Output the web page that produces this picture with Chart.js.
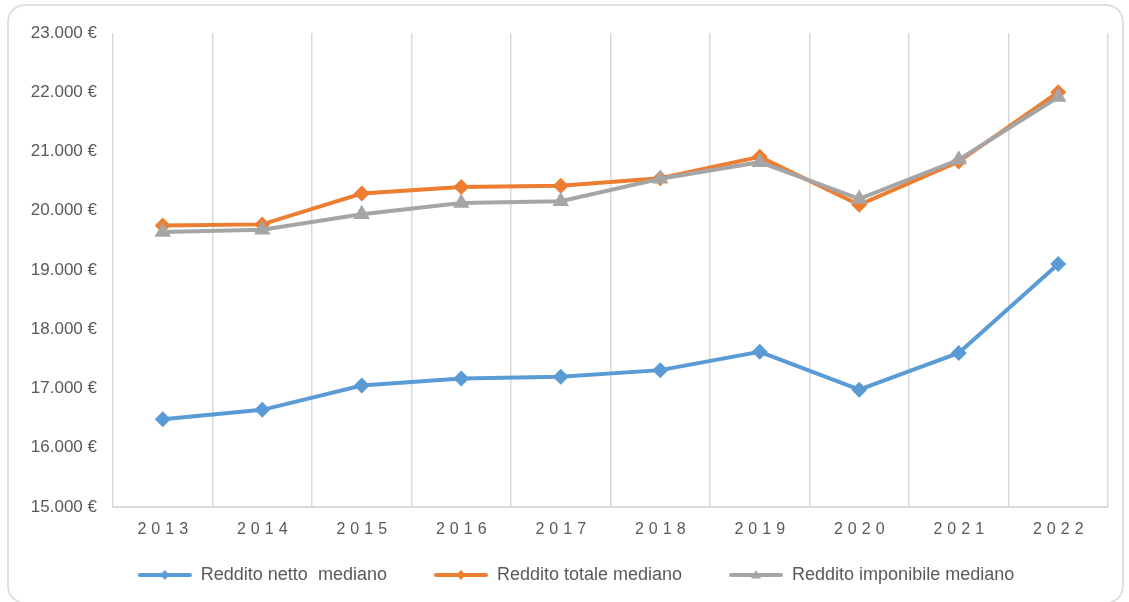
<!DOCTYPE html>
<html>
<head>
<meta charset="utf-8">
<script src="https://cdn.jsdelivr.net/npm/chart.js@4.4.1/dist/chart.umd.min.js"></script>
<style>
  html, body { margin: 0; padding: 0; background: #ffffff; }
  #wrap { position: relative; width: 1129px; height: 602px; overflow: hidden; }
  #frame { position: absolute; left: 7px; top: 4px; width: 1117px; height: 600px;
           border: 2px solid #e0e0e0; border-radius: 18px; box-sizing: border-box; }
  canvas { position: absolute; left: 0; top: 0; }
</style>
</head>
<body>
<div id="wrap">
  <div id="frame"></div>
  <canvas id="c" width="1129" height="602"></canvas>
</div>
<script>
const years = ['2013','2014','2015','2016','2017','2018','2019','2020','2021','2022'];
const redditoNetto = [16480, 16640, 17050, 17170, 17200, 17310, 17620, 16980, 17600, 19100];
const redditoTotale = [19750, 19770, 20290, 20400, 20420, 20550, 20910, 20100, 20830, 22000];
const redditoImponibile = [19640, 19680, 19940, 20130, 20160, 20540, 20820, 20200, 20860, 21920];
const seriesNames = ['Reddito netto  mediano', 'Reddito totale mediano', 'Reddito imponibile mediano'];
const yMin = 15000, yMax = 23000, yStep = 1000;

const BLUE = '#5B9BD5', ORANGE = '#ED7D31', GRAY = '#A5A5A5';
const TEXT = '#595959', GRID = '#d9d9d9';

function legendIcon(color, shape) {
  const c = document.createElement('canvas');
  c.width = 91; c.height = 20;
  const g = c.getContext('2d');
  g.strokeStyle = color; g.lineWidth = 4; g.lineCap = 'round';
  g.beginPath(); g.moveTo(39, 10); g.lineTo(89, 10); g.stroke();
  g.fillStyle = color;
  const cx = 64, cy = 10;
  g.beginPath();
  if (shape === 'diamond') {
    g.moveTo(cx, cy - 5); g.lineTo(cx + 4.5, cy); g.lineTo(cx, cy + 5); g.lineTo(cx - 4.5, cy);
  } else {
    g.moveTo(cx, cy - 5); g.lineTo(cx + 5, cy + 3.5); g.lineTo(cx - 5, cy + 3.5);
  }
  g.closePath(); g.fill();
  return c;
}
const icons = [legendIcon(BLUE, 'diamond'), legendIcon(ORANGE, 'diamond'), legendIcon(GRAY, 'triangle')];

function fmt(v) {
  return String(v).replace(/\B(?=(\d{3})+(?!\d))/g, '.') + ' €';
}

const xSpacing = {
  id: 'xSpacing',
  beforeDraw(chart) {
    const s = chart.scales.x;
    if (s && !s.__wrapped) {
      const orig = s.drawLabels;
      s.drawLabels = function (area) {
        const ctx = this.ctx;
        ctx.save();
        ctx.letterSpacing = '5px';
        ctx.translate(2.5, 0);
        orig.call(this, area);
        ctx.restore();
      };
      s.__wrapped = true;
    }
  }
};

new Chart(document.getElementById('c'), {
  type: 'line',
  data: {
    labels: years,
    datasets: [
      { label: seriesNames[0], data: redditoNetto, borderColor: BLUE, backgroundColor: BLUE,
        borderWidth: 4, pointStyle: 'rectRot', pointRadius: 8, pointBorderWidth: 0, order: 2 },
      { label: seriesNames[1], data: redditoTotale, borderColor: ORANGE, backgroundColor: ORANGE,
        borderWidth: 4, pointStyle: 'rectRot', pointRadius: 8, pointBorderWidth: 0, order: 1 },
      { label: seriesNames[2], data: redditoImponibile, borderColor: GRAY, backgroundColor: GRAY,
        borderWidth: 4, pointStyle: 'triangle', pointRadius: 9.5, pointBorderWidth: 0, order: 0 }
    ]
  },
  options: {
    responsive: false,
    animation: false,
    devicePixelRatio: 1,
    layout: { padding: { left: 7, right: 21, top: 33, bottom: 8 } },
    elements: { line: { tension: 0 } },
    scales: {
      x: {
        offset: true,
        grid: { offset: true, color: GRID, lineWidth: 1.5, drawTicks: false },
        border: { display: true, color: GRID, width: 2 },
        ticks: { color: TEXT, font: { family: 'Liberation Sans, Arial, sans-serif', size: 16 }, padding: 13,
                 maxRotation: 0 },
        afterFit(s) { s.height = 49; }
      },
      y: {
        min: yMin, max: yMax,
        grid: { display: false, drawTicks: false },
        border: { display: false },
        ticks: { stepSize: yStep, color: TEXT, padding: 16,
                 font: { family: 'Liberation Sans, Arial, sans-serif', size: 17 },
                 callback: (v) => fmt(v) },
        afterFit(s) { s.width = 106; }
      }
    },
    plugins: {
      tooltip: { enabled: false },
      legend: {
        position: 'bottom',
        labels: {
          usePointStyle: true,
          pointStyleWidth: 91,
          padding: 10,
          color: TEXT,
          font: { family: 'Liberation Sans, Arial, sans-serif', size: 18 },
          sort: (a, b) => a.datasetIndex - b.datasetIndex,
          generateLabels(chart) {
            const items = Chart.defaults.plugins.legend.labels.generateLabels(chart);
            items.forEach(it => { it.pointStyle = icons[it.datasetIndex]; });
            return items;
          }
        }
      }
    }
  },
  plugins: [xSpacing]
});
</script>
</body>
</html>
